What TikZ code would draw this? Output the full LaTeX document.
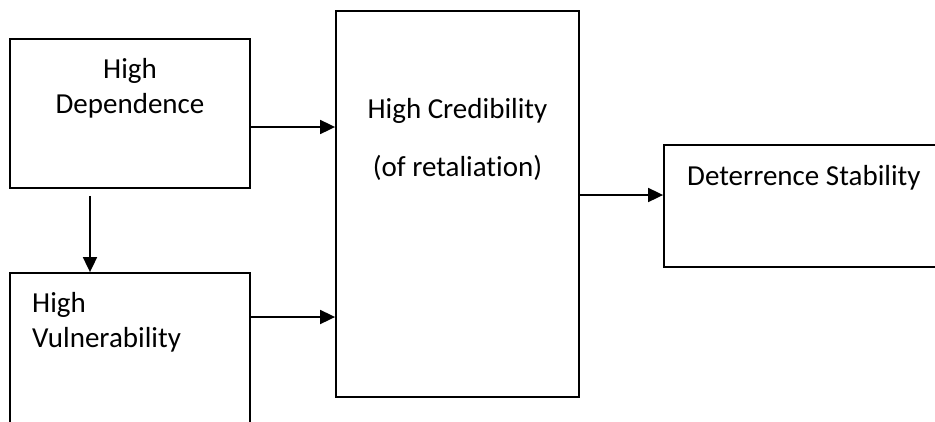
\documentclass[tikz,border=0pt]{standalone}
\usepackage{fontspec}
\setmainfont[Ligatures=NoCommon]{Carlito}
\usetikzlibrary{arrows.meta}

\tikzset{
  box/.style={draw=black, line width=1.8pt, rectangle, inner sep=0pt},
  lbl/.style={inner sep=0pt, font=\fontsize{29}{35}\selectfont},
  arr/.style={draw=black, line width=1.8pt, -{Triangle[length=15pt,width=14pt]}}
}

\begin{document}
\begin{tikzpicture}[x=1pt,y=-1pt]
  \useasboundingbox (0,0) rectangle (935,421);
  \clip (0,0) rectangle (935,421);

  % boxes
  \node[box, minimum width=240pt, minimum height=149pt] (dep)   at (130,113.5) {};
  \node[box, minimum width=240pt, minimum height=167pt] (vul)   at (130,356.5) {};
  \node[box, minimum width=243pt, minimum height=386pt] (cred)  at (457.5,204) {};
  \node[box, minimum width=286pt, minimum height=122pt] (deter) at (807,206) {};

  % texts
  \node[lbl, anchor=base] (t1) at (130,78) {High};
  \node[lbl, anchor=base] (t2) at (130,113) {Dependence};
  \node[lbl, anchor=base west] (t3) at (32,312) {High};
  \node[lbl, anchor=base west] (t4) at (32,347) {Vulnerability};
  \node[lbl, anchor=base] (t5) at (457.5,118) {High Credibility};
  \node[lbl, anchor=base] (t6) at (457.5,176) {(of retaliation)};
  \node[lbl, anchor=base west] (t7) at (687,185) {Deterrence Stability};

  % connectors
  \draw[arr] ([xshift=-40pt,yshift=-7pt]dep.south) -- ([xshift=-40pt]dep.south |- vul.north);
  \draw[arr] ([yshift=-13.5pt]dep.east) -- ([yshift=-13.5pt]dep.east -| cred.west);
  \draw[arr] ([yshift=39.5pt]vul.east) -- ([yshift=39.5pt]vul.east -| cred.west);
  \draw[arr] ([yshift=9pt]cred.east) -- ([yshift=9pt]cred.east -| deter.west);
\end{tikzpicture}
\end{document}
